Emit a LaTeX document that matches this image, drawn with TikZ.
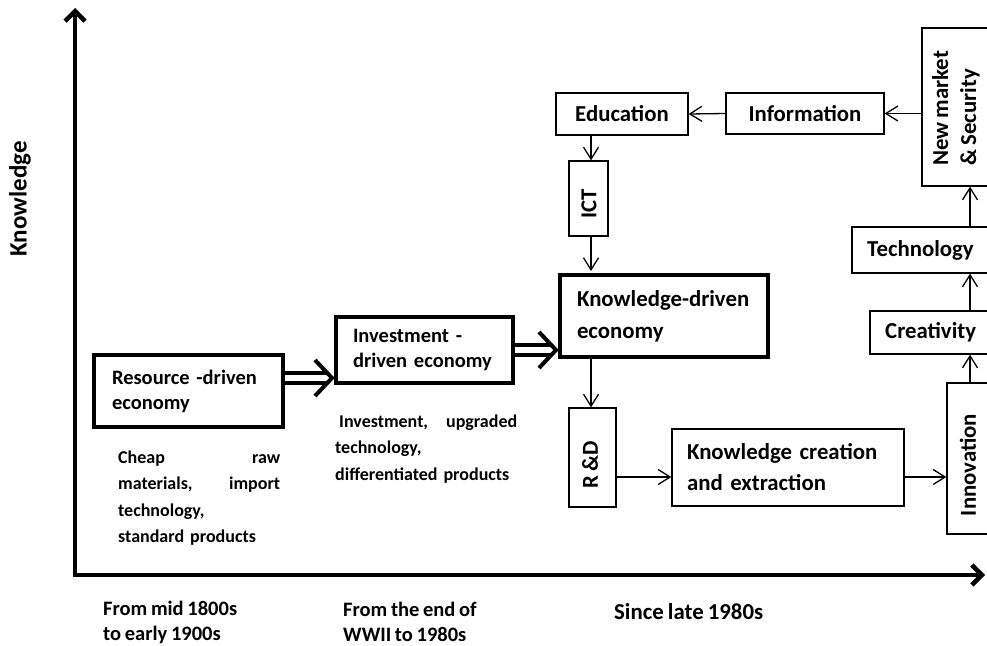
\documentclass[tikz,border=0pt]{standalone}
\usepackage{fontspec}
\setmainfont{Carlito}[WordSpace=0.8]
\usetikzlibrary{arrows.meta,calc}
\begin{document}
\begin{tikzpicture}[x=1pt,y=-1pt,
  thinbox/.style={draw, line width=1.3pt, inner sep=0pt},
  thickbox/.style={draw, line width=4pt, inner sep=0pt},
  big/.style={font=\bfseries\fontsize{22.8}{28}\selectfont},
  mid/.style={font=\bfseries\fontsize{20.5}{25}\selectfont},
  small/.style={font=\bfseries\fontsize{18}{26.5}\selectfont},
  arr/.style={line width=1.3pt, -{Straight Barb[length=12pt,width=15pt]}},
  axis/.style={line width=4.5pt, line join=miter, {Straight Barb[length=10pt,width=20pt]}-{Straight Barb[length=10pt,width=20pt]}},
  shaft/.style={double, line width=4pt, double distance=6pt},
  chev/.style={line width=4pt, line join=miter},
]
\useasboundingbox (0,0) rectangle (987,645);
\clip (0,0) rectangle (987,645);

% axes
\coordinate (O) at (75,575);
\coordinate (Ytop) at (75,8);
\coordinate (Xend) at (985,575);
\draw[axis] (Ytop) -- (O) -- (Xend);
\node[font=\bfseries\fontsize{25}{30}\selectfont, rotate=90, inner sep=0pt] (ylab) at (20,199) {Knowledge};

% boxes
\node[thickbox, mid, minimum width=189pt, minimum height=72pt, text width=153pt, inner xsep=18pt, align=left] (res) at (188.5,391) {Resource -driven\\economy};
\node[thickbox, mid, minimum width=177pt, minimum height=66pt, text width=143pt, inner xsep=17pt, align=left] (inv) at (424.5,350) {Investment -\\\mbox{driven economy}};
\node[thickbox, font=\bfseries\fontsize{22.8}{32}\selectfont, minimum width=208pt, minimum height=82pt, text width=174pt, inner xsep=17pt, align=left] (kd) at (664,316) {Knowledge-driven\\economy};
\node[thinbox, font=\bfseries\fontsize{22.8}{31}\selectfont, minimum width=232pt, minimum height=77pt, text width=202pt, inner xsep=15pt, align=left] (kc) at (788,467.5) {\mbox{Knowledge creation}\\and extraction};
\node[thinbox, big, minimum width=132pt, minimum height=42pt] (edu) at (622,114) {Education};
\node[thinbox, big, minimum width=158pt, minimum height=41pt] (info) at (805,113.5) {Information};

\node[thinbox, minimum width=39pt, minimum height=75pt] (ict) at (588.5,198.5) {};
\node[big, rotate=90, inner sep=0pt] (ictT) at (589,204) {ICT};
\node[thinbox, minimum width=47pt, minimum height=99pt] (rd) at (592.5,457.5) {};
\node[big, rotate=90, inner sep=0pt] (rdT) at (590,465) {R \&D};

\node[thinbox, minimum width=88pt, minimum height=158pt] (nm) at (966,107) {};
\node[big, rotate=90, inner sep=0pt, align=left, anchor=west] (nmT) at (956,166) {New market\\\& Security};
\node[thinbox, minimum width=158pt, minimum height=46pt] (tech) at (931,250) {};
\node[big, inner sep=0pt, anchor=west] (techT) at (867,250) {Technology};
\node[thinbox, minimum width=140pt, minimum height=43pt] (cre) at (940,332.5) {};
\node[big, inner sep=0pt, anchor=west] (creT) at (885,332.5) {Creativity};
\node[thinbox, minimum width=63pt, minimum height=151pt] (inn) at (978.5,458.5) {};
\node[big, rotate=90, inner sep=0pt] (innT) at (968,465) {Innovation};

% connectors
\coordinate (colL) at (591,0);
\coordinate (colR) at (970,0);
\coordinate (rowA) at (0,477);
\coordinate (rowB) at (0,378);
\draw[arr] (info.east -| nm.west) -- (info.east);
\draw[arr] (info.west) -- (edu.east);
\draw[arr] (edu.south -| colL) -- (ict.north -| colL);
\draw[arr, shorten >=2pt] (ict.south -| colL) -- (kd.north -| colL);
\draw[arr] (kd.south -| colL) -- (rd.north -| colL);
\draw[arr] (rd.east |- rowA) -- (kc.west |- rowA);
\draw[arr] (kc.east |- rowA) -- (inn.west |- rowA);
\draw[arr] (inn.north -| colR) -- (cre.south -| colR);
\draw[arr] (cre.north -| colR) -- (tech.south -| colR);
\draw[arr] (tech.north -| colR) -- (nm.south -| colR);

% hollow arrows
\coordinate (tipA) at ($(inv.west |- rowB)+(-2,0)$);
\draw[shaft] (res.east |- rowB) -- ($(tipA)+(-6,0)$);
\draw[chev] ($(tipA)+(-17,-18)$) -- (tipA) -- ($(tipA)+(-17,18)$);
\coordinate (tipB) at ($(kd.west |- inv.east)+(-2,0)$);
\draw[shaft] (inv.east) -- ($(tipB)+(-6,0)$);
\draw[chev] ($(tipB)+(-17,-18)$) -- (tipB) -- ($(tipB)+(-17,18)$);

% notes
\node[small, text width=162pt, align=left, anchor=west, inner sep=0pt] (resN) at (118,498) {Cheap\hfill raw\\materials,\hfill import\\technology,\\standard products};
\node[small, text width=182pt, align=left, anchor=west, inner sep=0pt] (invN) at (335,449) {\hspace*{4pt}Investment,\hfill upgraded\\technology,\\\mbox{differentiated products}};
\node[mid, align=left, anchor=west, inner sep=0pt] (t1) at (103,622) {From mid 1800s\\to early 1900s};
\node[mid, align=left, anchor=west, inner sep=0pt] (t2) at (343,622) {From the end of\\WWII to 1980s};
\node[big, anchor=west, inner sep=0pt] (t3) at (614,612) {Since late 1980s};
\end{tikzpicture}
\end{document}
